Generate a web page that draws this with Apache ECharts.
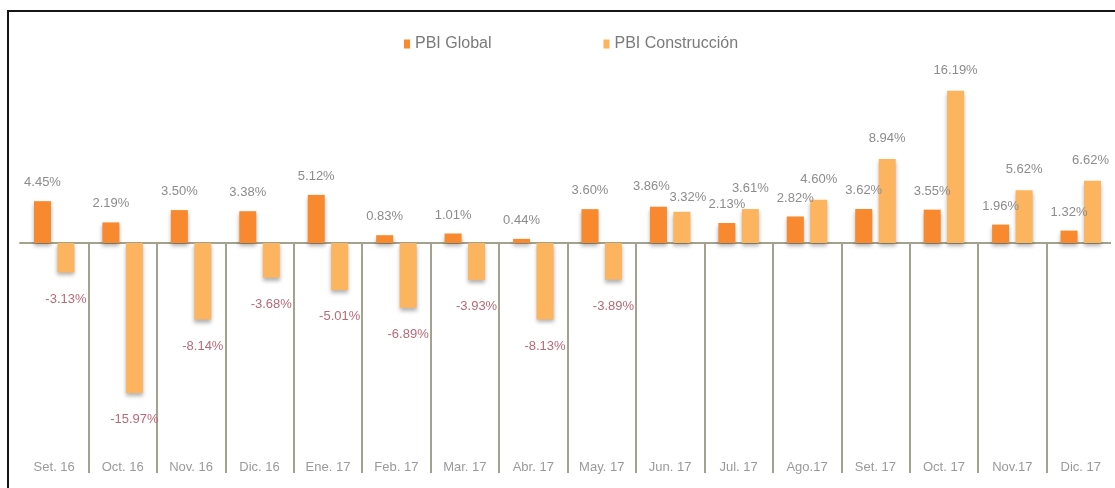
<!DOCTYPE html>
<html>
<head>
<meta charset="utf-8">
<title>PBI Global vs PBI Construcción</title>
<script src="https://cdn.jsdelivr.net/npm/echarts@6/dist/echarts.min.js"></script>
<style>
  html, body { margin: 0; padding: 0; background: #fff; overflow: hidden; }
  #wrap { position: relative; width: 1115px; height: 488px; overflow: hidden; }
  #chart { width: 1115px; height: 488px; }
  .frame {
    position: absolute;
    left: 7px;
    top: 10px;
    width: 1120px;
    height: 490px;
    border-left: 2px solid #151515;
    border-top: 2px solid #151515;
    pointer-events: none;
  }
  /* hides the stray edge line at the far right */
  .mask {
    position: absolute;
    left: 1111px;
    top: 14px;
    width: 4px;
    height: 474px;
    background: #fff;
  }
</style>
</head>
<body>
<div id="wrap">
  <div id="chart"></div>
  <div class="frame"></div>
  <div class="mask"></div>
</div>
<script>
const months = [
  "Set. 16", "Oct. 16", "Nov. 16", "Dic. 16", "Ene. 17", "Feb. 17", "Mar. 17", "Abr. 17",
  "May. 17", "Jun. 17", "Jul. 17", "Ago.17", "Set. 17", "Oct. 17", "Nov.17", "Dic. 17",
];
const pbiGlobal = [4.45, 2.19, 3.50, 3.38, 5.12, 0.83, 1.01, 0.44, 3.60, 3.86, 2.13, 2.82, 3.62, 3.55, 1.96, 1.32];
const pbiConstruccion = [-3.13, -15.97, -8.14, -3.68, -5.01, -6.89, -3.93, -8.13, -3.89, 3.32, 3.61, 4.60, 8.94, 16.19, 5.62, 6.62];

const FONT = '"Liberation Sans", Arial, sans-serif';
const LINE = "#a3a28e";

// the two labels of Jun. 17 sit close together, push them apart a bit
const nudgeGlobal = { 9: [-7, -2] };
const nudgeConstruccion = { 9: [6, 6], 15: [-2, 0] };

// positive labels above the bar in gray, negative ones below in a muted red
function withLabels(values, upDistance, nudge) {
  return values.map((v, i) => {
    const label = v < 0
      ? { position: "bottom", distance: 20, color: "#b86a76" }
      : { position: "top", distance: upDistance, color: "#8c8c8c" };
    if (nudge[i]) label.offset = nudge[i];
    return { value: v, label };
  });
}

const barShadow = {
  shadowColor: "rgba(0, 0, 0, 0.3)",
  shadowBlur: 4,
  shadowOffsetY: 3,
};

const chart = echarts.init(document.getElementById("chart"));

chart.setOption({
  animation: false,
  legend: {
    left: 399,
    top: 31,
    icon: "rect",
    itemWidth: 6,
    itemHeight: 9,
    itemGap: 112,
    textStyle: { color: "#7a7a7a", fontSize: 16, fontFamily: FONT },
    data: ["PBI Global", "PBI Construcción"],
  },
  grid: {
    left: 20,
    right: -1,
    top: 55,
    bottom: 57,
    containLabel: false,
  },
  xAxis: [
    {
      type: "category",
      data: months,
      axisLine: { onZero: true, lineStyle: { color: LINE, width: 2 } },
      axisTick: {
        show: true,
        length: 230,
        interval: (index) => index > 0,
        lineStyle: { color: LINE, width: 2 },
      },
      axisLabel: { show: false },
      splitLine: { show: false },
    },
    {
      type: "category",
      data: months,
      position: "bottom",
      axisLine: { show: false, onZero: false },
      axisTick: { show: false },
      axisLabel: {
        interval: 0,
        margin: 30,
        color: "#9a9a9a",
        fontSize: 13,
        fontFamily: FONT,
      },
    },
  ],
  yAxis: {
    type: "value",
    min: -20,
    max: 20,
    show: false,
    splitLine: { show: false },
  },
  series: [
    {
      name: "PBI Global",
      type: "bar",
      xAxisIndex: 0,
      barWidth: 17,
      barGap: "38%",
      data: withLabels(pbiGlobal, 12, nudgeGlobal),
      itemStyle: Object.assign({ color: "#f8892e" }, barShadow),
      label: {
        show: true,
        fontSize: 13,
        fontFamily: FONT,
        formatter: (p) => p.value.toFixed(2) + "%",
      },
    },
    {
      name: "PBI Construcción",
      type: "bar",
      xAxisIndex: 0,
      barWidth: 17,
      data: withLabels(pbiConstruccion, 14, nudgeConstruccion),
      itemStyle: Object.assign({ color: "#fdb45e" }, barShadow),
      label: {
        show: true,
        fontSize: 13,
        fontFamily: FONT,
        formatter: (p) => p.value.toFixed(2) + "%",
      },
    },
  ],
});
</script>
</body>
</html>
